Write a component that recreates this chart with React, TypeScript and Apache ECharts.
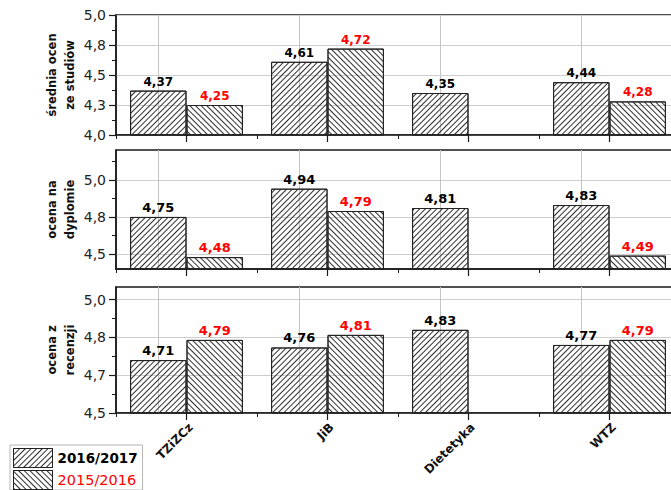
import React, { useEffect, useRef } from 'react';
import * as echarts from 'echarts';

// Study programmes on the shared x axis
const categories = ['TZiZCz', 'JiB', 'Dietetyka', 'WTZ'];
const yearNames = ['2016/2017', '2015/2016'];

// Average grades per panel and academic year (null = no data for that year)
const studies1617 = [4.37, 4.61, 4.35, 4.44];
const studies1516 = [4.25, 4.72, null, 4.28];
const diploma1617 = [4.75, 4.94, 4.81, 4.83];
const diploma1516 = [4.48, 4.79, null, 4.49];
const review1617 = [4.71, 4.76, 4.83, 4.77];
const review1516 = [4.79, 4.81, null, 4.79];

// Panel titles (y axis names)
const panelTitles = ['średnia ocen\nze studiów', 'ocena na\ndyplomie', 'ocena z\nrecenzji'];

// Axis extents and tick positions of each panel
const studiesRange = [4.0, 5.0];
const diplomaRange = [4.4, 5.2];
const reviewRange = [4.5, 5.0];
const studiesTicks = [4.0, 4.25, 4.5, 4.75, 5.0];
const studiesMinorTicks = [4.125, 4.375, 4.625, 4.875];
const diplomaTicks = [4.5, 4.75, 5.0];
const diplomaMinorTicks = [4.625, 4.875, 5.125];
const reviewTicks = [4.5, 4.65, 4.8, 4.95];
const reviewMinorTicks = [4.575, 4.725, 4.875];

const FONT = 'DejaVu Sans';
const INK = '#1a1a1a';

const tickLabel = (v: number) =>
  (Math.round(v * 10 + 1e-6) / 10).toFixed(1).replace('.', ',');
const valueLabel = (p: any) =>
  p.value == null ? '' : Number(p.value).toFixed(2).replace('.', ',');

// "////" hatching for 2016/2017, "\\\\" for 2015/2016
const hatchForward = {
  symbol: 'rect',
  symbolSize: 1,
  color: '#2e2e2e',
  dashArrayX: [1, 0],
  dashArrayY: [1, 2.2],
  rotation: -Math.PI / 4,
};
const hatchBackward = { ...hatchForward, rotation: Math.PI / 4 };

export default function App() {
  const ref = useRef<HTMLDivElement>(null);

  useEffect(() => {
    if (!ref.current) return;
    const chart = echarts.init(ref.current, undefined, { renderer: 'svg' });

    const panels = [
      { top: 15, height: 120, range: studiesRange, ticks: studiesTicks, minor: studiesMinorTicks, a: studies1617, b: studies1516, labelSize: 12 },
      { top: 150, height: 119, range: diplomaRange, ticks: diplomaTicks, minor: diplomaMinorTicks, a: diploma1617, b: diploma1516, labelSize: 13 },
      { top: 287, height: 126, range: reviewRange, ticks: reviewTicks, minor: reviewMinorTicks, a: review1617, b: review1516, labelSize: 13 },
    ];

    const grid: any[] = [];
    const xAxis: any[] = [];
    const yAxis: any[] = [];
    const series: any[] = [];

    panels.forEach((p, i) => {
      const isLast = i === panels.length - 1;
      grid.push({
        left: 116,
        top: p.top,
        width: 564,
        height: p.height,
        outerBoundsMode: 'none',
        containLabel: false,
        show: true,
        borderColor: INK,
        borderWidth: 1.5,
        backgroundColor: 'transparent',
      });
      // category centres: long ticks, labels on the bottom panel
      xAxis.push({
        type: 'category',
        gridIndex: i,
        position: 'bottom',
        data: categories,
        axisLine: { show: true, lineStyle: { color: INK, width: 1.5 } },
        axisTick: { show: true, alignWithLabel: true, length: 7, lineStyle: { color: INK, width: 1.2 } },
        axisLabel: isLast
          ? { show: true, rotate: 45, margin: 8, verticalAlign: 'top', fontSize: 12, fontWeight: 'bold', fontFamily: FONT, color: '#111' }
          : { show: false },
        splitLine: { show: false },
      });
      // category boundaries: short ticks
      xAxis.push({
        type: 'category',
        gridIndex: i,
        position: 'bottom',
        data: categories,
        axisLine: { show: false },
        axisTick: { show: true, length: 4, lineStyle: { color: INK, width: 1 } },
        axisLabel: { show: false },
        splitLine: { show: false },
      });
      yAxis.push({
        type: 'value',
        gridIndex: i,
        position: 'left',
        min: p.range[0],
        max: p.range[1],
        name: panelTitles[i],
        nameLocation: 'middle',
        nameRotate: 90,
        nameGap: 37,
        nameMoveOverlap: false,
        nameTextStyle: { fontFamily: FONT, fontSize: 11.5, fontWeight: 'bold', color: '#111', lineHeight: 18 },
        axisLine: { show: true, lineStyle: { color: INK, width: 1.5 } },
        axisTick: { show: true, length: 7, customValues: p.ticks, lineStyle: { color: INK, width: 1.2 } },
        axisLabel: { show: true, customValues: p.ticks, formatter: tickLabel, margin: 10, fontSize: 14, fontFamily: FONT, color: '#222' },
        splitLine: { show: true, lineStyle: { color: '#cdcdcd', width: 1 } },
      });
      yAxis.push({
        type: 'value',
        gridIndex: i,
        position: 'left',
        min: p.range[0],
        max: p.range[1],
        axisLine: { show: false },
        axisTick: { show: true, length: 4, customValues: p.minor, lineStyle: { color: INK, width: 1 } },
        axisLabel: { show: false },
        splitLine: { show: false },
      });

      const common = {
        type: 'bar',
        xAxisIndex: 2 * i,
        yAxisIndex: 2 * i,
        barWidth: '40%',
        barGap: '0%',
        clip: true,
        silent: true,
      };
      series.push({
        ...common,
        name: yearNames[0],
        data: p.a,
        itemStyle: { color: 'rgba(255,255,255,0)', borderColor: '#222', borderWidth: 1, decal: hatchForward },
        label: { show: true, position: 'top', distance: 3, formatter: valueLabel, color: '#000', fontWeight: 'bold', fontSize: p.labelSize, fontFamily: FONT },
        markLine: {
          silent: true,
          z: 1,
          symbol: ['none', 'none'],
          label: { show: false },
          lineStyle: { color: '#c4c4c4', width: 1, type: 'solid' },
          data: categories.map((c) => ({ xAxis: c })),
        },
      });
      series.push({
        ...common,
        name: yearNames[1],
        data: p.b,
        itemStyle: { color: 'rgba(255,255,255,0)', borderColor: '#222', borderWidth: 1, decal: hatchBackward },
        label: { show: true, position: 'top', distance: 3, formatter: valueLabel, color: '#ff0000', fontWeight: 'bold', fontSize: p.labelSize, fontFamily: FONT },
      });
    });

    chart.setOption({
      animation: false,
      backgroundColor: '#ffffff',
      legend: {
        orient: 'vertical',
        left: 10,
        top: 445,
        padding: [3, 5, 0, 3],
        itemGap: 2,
        itemWidth: 39,
        itemHeight: 19,
        icon: 'rect',
        borderColor: '#b5b5b5',
        borderWidth: 1,
        backgroundColor: '#ffffff',
        selectedMode: false,
        itemStyle: { borderWidth: 1 },
        data: [
          { name: yearNames[0], textStyle: { fontFamily: FONT, fontSize: 13.5, fontWeight: 'bold', color: '#000' } },
          { name: yearNames[1], textStyle: { fontFamily: FONT, fontSize: 14.5, color: '#ff0000' } },
        ],
      },
      grid,
      xAxis,
      yAxis,
      series,
    });

    return () => chart.dispose();
  }, []);

  return (
    <div
      ref={ref}
      style={{ position: 'fixed', left: 0, top: 0, width: 671, height: 490 }}
    />
  );
}
